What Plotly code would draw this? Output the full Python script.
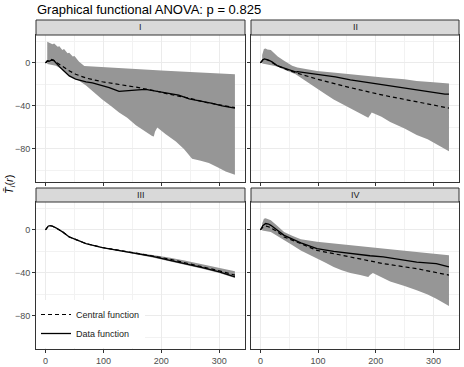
import plotly.graph_objects as go

W, H = 464, 367

# panel labels
panels = ["I", "II", "III", "IV"]

# Panel I
up1_x = [3, 6, 12, 15, 21, 24, 29, 32, 38, 41, 47, 50, 55, 58, 67, 100, 150, 200, 250, 300, 327]
up1_y = [19.8, 19, 17.4, 18, 15, 15.5, 12, 13, 9, 9.5, 6, 6.5, 2.8, 1.2, -2.8, -4, -5.5, -7, -8.5, -9.8, -10.5]
lo1_x = [3, 18, 29, 41, 58, 70, 84, 98, 113, 127, 141, 156, 173, 184, 187, 189, 193, 207, 225, 239, 253, 268, 282, 297, 311, 322, 327]
lo1_y = [-1, -2.5, -6, -12, -16.5, -21, -27.5, -34, -40, -46, -51, -58, -64, -68, -68.5, -64, -60, -66, -73, -80, -89, -91, -93, -97, -101, -103, -104]
dat1_x = [0, 3, 6, 10, 14, 18, 24, 30, 41, 52, 58, 70, 81, 98, 110, 127, 135, 144, 160, 173, 190, 213, 230, 248, 270, 288, 305, 327]
dat1_y = [0, 2, 1.5, 2.5, 2.5, 0.5, -3.4, -6.5, -12, -15, -16, -17.5, -18.5, -21, -23, -26.5, -26, -25.5, -25, -24.5, -26, -28, -30, -33.5, -35.5, -37.5, -40, -42]
cen1_x = [0, 4, 8, 12, 20, 29, 40, 52, 70, 98, 130, 156, 190, 213, 250, 271, 300, 327]
cen1_y = [0, 2, 3.7, 3, 0, -3, -7, -10.5, -14, -17.5, -20, -22.5, -26, -29, -33, -36, -39, -41.5]

# Panel II
up2_x = [3, 6, 9, 12, 18, 24, 30, 41, 47, 55, 64, 80, 98, 130, 156, 190, 213, 250, 271, 300, 327]
up2_y = [7.4, 13, 13.5, 12.5, 12, 9, 6, 2, 0, -2.5, -4.3, -5.8, -7.4, -9, -10.5, -12, -13.6, -15.2, -16.7, -18, -19]
lo2_x = [3, 12, 29, 45, 61, 80, 98, 113, 127, 141, 156, 173, 187, 190, 193, 210, 225, 250, 271, 290, 305, 327]
lo2_y = [-0.6, -1.5, -3.4, -7, -10.5, -17, -23.5, -29, -34, -38, -42, -47, -51, -49, -46, -50, -55, -61, -67, -71, -75, -82]
dat2_x = [0, 4, 7, 10, 15, 20, 29, 45, 61, 62, 64, 98, 130, 156, 190, 213, 250, 271, 305, 320, 327]
dat2_y = [0, 3, 3.7, 3.5, 2.5, 1, -2.5, -5.5, -9, -8.5, -8, -10.5, -13, -15.8, -18.5, -20.5, -23, -25, -28, -29, -29]
cen2_x = [0, 4, 8, 12, 20, 29, 45, 61, 98, 156, 213, 271, 327]
cen2_y = [0, 2.5, 3.5, 3, 0.5, -2.5, -6, -9, -15, -23, -30, -36, -42]

# Panel III
up3_x = [0, 3, 5, 8, 12, 18, 24, 30, 41, 55, 70, 98, 127, 156, 185, 213, 240, 271, 300, 327]
up3_y = [0, 2.5, 3.7, 4, 3.5, 2, 0, -2, -6.5, -9.5, -12.7, -16, -18.3, -20.5, -23, -25.5, -28.5, -32, -35.5, -38.5]
lo3_x = [0, 3, 5, 8, 12, 18, 24, 30, 41, 55, 70, 98, 127, 156, 185, 213, 240, 271, 300, 327]
lo3_y = [0, 2.5, 3.7, 4, 3.5, 2, 0, -2, -6.5, -9.5, -12.7, -16.8, -19.6, -22.5, -25.5, -28.5, -32, -36, -40, -44.6]
dat3_x = [0, 3, 5, 8, 12, 18, 24, 30, 41, 55, 70, 98, 127, 156, 185, 213, 240, 271, 300, 327]
dat3_y = [0, 2.5, 3.7, 4, 3.5, 2, 0, -2, -6.5, -9.5, -12.7, -16.4, -19, -22, -24.5, -28, -31, -35, -39, -43.7]
cen3_x = [0, 3, 5, 8, 12, 18, 24, 30, 41, 55, 70, 98, 127, 156, 185, 213, 240, 271, 300, 327]
cen3_y = [0, 2.5, 3.7, 4, 3.5, 2, 0, -2, -6.5, -9.5, -12.7, -16.3, -18.8, -21.5, -24.2, -27, -30.3, -34, -38, -42]

# Panel IV
up4_x = [3, 6, 9, 12, 18, 29, 41, 55, 70, 98, 156, 213, 271, 327]
up4_y = [6, 10.5, 10.8, 10, 9, 4, -2, -5.5, -8.7, -11, -14, -17.4, -20.5, -23.6]
lo4_x = [3, 18, 29, 41, 55, 70, 84, 98, 113, 127, 141, 156, 173, 187, 190, 195, 210, 225, 250, 271, 290, 305, 327]
lo4_y = [-0.6, -2, -6, -9.6, -14, -19, -23, -26.7, -30.5, -34.4, -37.5, -40, -42, -43.7, -42, -40, -44, -48, -52, -56, -60, -64, -70.7]
dat4_x = [0, 4, 9, 14, 18, 29, 41, 70, 98, 127, 156, 190, 213, 250, 271, 305, 327]
dat4_y = [0, 4, 6, 5.5, 4.3, 0, -5, -12, -17.4, -20, -22, -24, -25, -28, -30, -31.3, -34.4]
cen4_x = [0, 4, 9, 14, 29, 41, 70, 98, 127, 156, 213, 271, 327]
cen4_y = [0, 2.5, 3.7, 3, -1.5, -6.5, -12.7, -19, -22, -25, -31.3, -36, -42]

series = [
    (up1_x, up1_y, lo1_x, lo1_y, dat1_x, dat1_y, cen1_x, cen1_y),
    (up2_x, up2_y, lo2_x, lo2_y, dat2_x, dat2_y, cen2_x, cen2_y),
    (up3_x, up3_y, lo3_x, lo3_y, dat3_x, dat3_y, cen3_x, cen3_y),
    (up4_x, up4_y, lo4_x, lo4_y, dat4_x, dat4_y, cen4_x, cen4_y),
]

x_ticks = [0, 100, 200, 300]
x_minor = [50, 150, 250]
y_ticks = [-80, -40, 0]
y_minor = [-100, -60, -20, 20]

FONT = "Liberation Sans, Arial, sans-serif"

# pixel boxes of panels: (left, right, top, bottom) and strip top
boxes = [(36, 245, 35, 182, 20), (251, 459, 35, 182, 20),
         (36, 245, 202, 349, 188), (251, 459, 202, 349, 188)]

fig = go.Figure()

for i, (ux, uy, lx, ly, dx, dy, cx, cy) in enumerate(series):
    xa = "x" if i == 0 else f"x{i+1}"
    ya = "y" if i == 0 else f"y{i+1}"
    # envelope polygon
    fig.add_trace(go.Scatter(
        x=ux + lx[::-1], y=uy + ly[::-1], fill="toself", mode="lines",
        line=dict(width=0), fillcolor="#969696", showlegend=False,
        hoverinfo="skip", xaxis=xa, yaxis=ya))
    fig.add_trace(go.Scatter(
        x=cx, y=cy, mode="lines", line=dict(color="black", width=1.2, dash="4px,3px"),
        name="Central function", showlegend=(i == 0), xaxis=xa, yaxis=ya))
    fig.add_trace(go.Scatter(
        x=dx, y=dy, mode="lines", line=dict(color="black", width=1.3),
        name="Data function", showlegend=(i == 0), xaxis=xa, yaxis=ya))

layout = dict(
    width=W, height=H,
    margin=dict(l=0, r=0, t=0, b=0),
    paper_bgcolor="white", plot_bgcolor="white",
    font=dict(family=FONT, size=9, color="#4D4D4D"),
    title=dict(text="Graphical functional ANOVA: p = 0.825", x=37 / W, xanchor="left",
               y=1 - 9 / H, yanchor="middle", font=dict(size=13, color="black")),
    legend=dict(x=36 / W, xanchor="left", y=1 - 348 / H, yanchor="bottom",
                bgcolor="white", borderwidth=0, font=dict(size=9, color="#1A1A1A"),
                tracegroupgap=0, itemwidth=30),
    shapes=[], annotations=[],
)

for i, (l, r, t, b, st) in enumerate(boxes):
    xk = "xaxis" if i == 0 else f"xaxis{i+1}"
    yk = "yaxis" if i == 0 else f"yaxis{i+1}"
    anchor_x = "y" if i == 0 else f"y{i+1}"
    anchor_y = "x" if i == 0 else f"x{i+1}"
    layout[xk] = dict(
        domain=[l / W, r / W], anchor=anchor_x, range=[-16.4, 344.4],
        tickvals=x_ticks, showticklabels=(i >= 2), ticks="outside", ticklen=3,
        tickcolor="#333333", showgrid=True, gridcolor="#EBEBEB", gridwidth=1,
        minor=dict(tickvals=x_minor, showgrid=True, gridcolor="#F2F2F2", gridwidth=0.6),
        showline=True, mirror=True, linecolor="#333333", linewidth=1, zeroline=False,
        tickfont=dict(size=9, color="#4D4D4D"))
    layout[yk] = dict(
        domain=[1 - b / H, 1 - t / H], anchor=anchor_y, range=[-110.7, 26],
        tickvals=y_ticks, showticklabels=(i % 2 == 0), ticks="outside", ticklen=3,
        tickcolor="#333333", showgrid=True, gridcolor="#EBEBEB", gridwidth=1,
        minor=dict(tickvals=y_minor, showgrid=True, gridcolor="#F2F2F2", gridwidth=0.6),
        showline=True, mirror=True, linecolor="#333333", linewidth=1, zeroline=False,
        tickfont=dict(size=9, color="#4D4D4D"))
    layout["shapes"].append(dict(
        type="rect", xref="paper", yref="paper", x0=l / W, x1=r / W,
        y0=1 - t / H, y1=1 - st / H, fillcolor="#D9D9D9",
        line=dict(color="#333333", width=1), layer="above"))
    layout["annotations"].append(dict(
        text=panels[i], xref="paper", yref="paper", x=(l + r) / 2 / W,
        y=1 - (t + st) / 2 / H, showarrow=False, xanchor="center", yanchor="middle",
        font=dict(size=9, color="#1A1A1A")))

layout["annotations"].append(dict(
    text="<i>T̄</i><sub><i>i</i></sub>(<i>r</i>)", xref="paper", yref="paper",
    x=10 / W, y=1 - 185 / H, textangle=-90, showarrow=False,
    xanchor="center", yanchor="middle", font=dict(size=11, color="black")))

fig.update_layout(**layout)

# remove the default page margin so the figure sits at the window's corner
fig.write_html("out.html", config={"displayModeBar": False},
               post_script="document.body.style.margin='0';")
